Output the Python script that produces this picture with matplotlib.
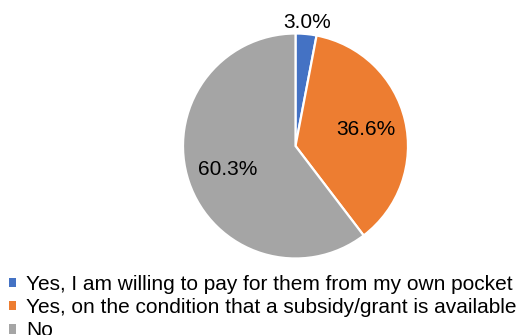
import matplotlib
matplotlib.use("Agg")
import matplotlib.pyplot as plt
from matplotlib.patches import Rectangle
import numpy as np

plt.rcParams["font.family"] = ["Liberation Sans", "DejaVu Sans"]

categories = [
    "Yes, I am willing to pay for them from my own pocket",
    "Yes, on the condition that a subsidy/grant is available",
    "No",
]
shares = [3.0, 36.6, 60.3]
colors = ["#4472C4", "#ED7D31", "#A5A5A5"]

W, H = 528, 335
fig = plt.figure(figsize=(W / 100, H / 100), dpi=100)

# pie centred at (295.5, 146) px from top-left, radius 112.5 px
cx, cy, r = 295.5, 146, 112.5
ax = fig.add_axes([(cx - r) / W, (H - cy - r) / H, 2 * r / W, 2 * r / H])

# label each slice with its reported share (not the renormalised one)
share_labels = iter(f"{v:.1f}%" for v in shares)

wedges, texts, autotexts = ax.pie(
    shares,
    colors=colors,
    startangle=90,
    counterclock=False,
    autopct=lambda p: next(share_labels),
    pctdistance=0.64,
    radius=1.0,
    wedgeprops=dict(edgecolor="white", linewidth=1.6),
    textprops=dict(fontsize=15, color="#000000"),
)
ax.set_xlim(-1, 1)
ax.set_ylim(-1, 1)
ax.set_aspect("equal")
ax.axis("off")

# the small slice gets its label outside the pie
w0 = wedges[0]
mid = np.deg2rad((w0.theta1 + w0.theta2) / 2)
autotexts[0].set_position((1.107 * np.cos(mid), 1.107 * np.sin(mid)))

# legend rows: small square marker + text
handles = [Rectangle((0, 0), 1, 1, facecolor=c, edgecolor="none") for c in colors]
fig.legend(
    handles,
    categories,
    loc="upper left",
    bbox_to_anchor=(9 / W, 1 - 275 / H),
    frameon=False,
    fontsize=15,
    handlelength=0.33,
    handleheight=0.33,
    handletextpad=0.5,
    labelspacing=0.2,
    borderaxespad=0,
    borderpad=0,
)

fig.savefig("out.png", dpi=100, facecolor="white")
